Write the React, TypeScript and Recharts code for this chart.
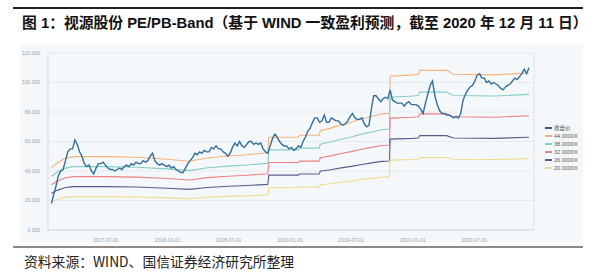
import React from "react";
import { LineChart, Line, XAxis, YAxis, CartesianGrid } from "recharts";

// 收盘价（周度，自上市首周起）
const closeStart = "2017-01-20";
const closeWeekly = [
  18, 24, 30, 37, 40, 41, 47, 53, 55, 55,
  61, 58, 53, 50, 45, 43, 44, 40, 38, 42,
  45, 45, 46, 44, 42, 41, 41, 40, 41, 42,
  41, 43, 44, 43, 45, 44, 46, 45, 45, 47,
  46, 47, 50, 52, 47, 45, 44, 45, 44, 43,
  44, 42, 43, 41, 40, 39, 39, 42, 45, 47,
  49, 52, 51, 53, 52, 54, 53, 53, 56, 55,
  57, 55, 55, 53, 52, 50, 52, 56, 59, 57,
  60, 57, 56, 58, 60, 60, 58, 59, 58, 59,
  55, 53, 52, 57, 62, 65, 63, 60, 58, 57,
  57, 55, 56, 54, 55, 57, 56, 60, 63, 67,
  69, 73, 76, 76, 73, 74, 78, 73, 73, 76,
  75, 74, 74, 72, 71, 72, 74, 77, 79, 76,
  75, 75, 76, 72, 70, 71, 82, 91, 91, 89,
  87, 89, 90, 89, 95, 88, 87, 86, 86, 86,
  84, 86, 87, 85, 85, 85, 84, 82, 79, 86,
  92, 98, 101, 91, 85, 81, 79, 79, 78, 78,
  77, 76, 77, 76, 79, 88, 92, 95, 97, 98,
  101, 105, 106, 103, 103, 100, 101, 99, 100, 99,
  98, 96, 95, 97, 98, 99, 101, 103, 102, 104,
  106, 109, 106, 110,
];

// WIND 一致预测 EPS
const epsDates = [
  "2017-01-20", "2017-02-08", "2017-03-01", "2017-03-25", "2017-06-30",
  "2017-09-30", "2017-12-31", "2018-03-07", "2018-04-30", "2018-06-30",
  "2018-08-25", "2018-10-26", "2018-10-29", "2019-01-25", "2019-01-28",
  "2019-03-28", "2019-03-31", "2019-05-01", "2019-06-01", "2019-07-01",
  "2019-08-01", "2019-08-31", "2019-09-30", "2019-10-23", "2019-10-25",
  "2019-12-31", "2020-01-17", "2020-01-21", "2020-04-10", "2020-04-30",
  "2020-08-31", "2020-12-11",
];
const epsValues = [
  0.96, 1.04, 1.1, 1.13, 1.13,
  1.12, 1.09, 1.06, 1.11, 1.14,
  1.16, 1.19, 1.43, 1.43, 1.46,
  1.46, 1.53, 1.57, 1.62, 1.66,
  1.71, 1.75, 1.79, 1.8, 2.37,
  2.39, 2.4, 2.46, 2.46, 2.4,
  2.39, 2.42,
];

const bandMultiples = [44, 38, 32, 26, 20];
const bandNames = ["44.0000X", "38.0000X", "32.0000X", "26.0000X", "20.0000X"];
const bandColors = ["#f5b27a", "#86cdc3", "#ee8080", "#575d8c", "#f2d98c"];

const xTicks = ["2017-07-01", "2018-01-01", "2018-07-01", "2019-01-01", "2019-07-01", "2020-01-01", "2020-07-01"];
const yTicks = [0, 20, 40, 60, 80, 100, 120];

const DAY = 86400000;
const toTime = (s: string) => {
  const [y, m, d] = s.split("-").map(Number);
  return Date.UTC(y, m - 1, d);
};
const fmtDate = (t: number) => new Date(t).toISOString().slice(0, 10);

const closeData = closeWeekly.map((v, i) => ({ t: toTime(closeStart) + i * 7 * DAY, close: v }));
const bandData = epsDates.map((d, i) => {
  const row: Record<string, number> = { t: toTime(d) };
  bandMultiples.forEach((m, k) => {
    row["b" + k] = +(m * epsValues[i]).toFixed(2);
  });
  return row;
});

const tickFont = { fontSize: 5, fill: "#9aa0a8", fontFamily: "Liberation Sans, Arial, sans-serif" };

export default function App() {
  const legend = [{ name: "收盘价", color: "#3b5f80" }].concat(
    bandNames.map((n, k) => ({ name: n, color: bandColors[k] }))
  );
  return (
    <div style={{ position: "absolute", left: 0, top: 0, width: 596, height: 274, background: "#fff", fontFamily: "Liberation Sans, 'Noto Sans CJK SC', sans-serif" }}>
      <div style={{ position: "absolute", left: 13, top: 7, width: 570, height: 2, background: "#222" }} />
      <div style={{ position: "absolute", left: 22, top: 11, fontSize: 14.8, fontWeight: "bold", color: "#111", whiteSpace: "nowrap", fontFamily: "'Liberation Sans', 'Noto Sans CJK SC', sans-serif" }}>
        图 1：视源股份 PE/PB-Band（基于 WIND 一致盈利预测，截至 2020 年 12 月 11 日）
      </div>
      <div style={{ position: "absolute", left: 20, top: 44, width: 563, height: 198, background: "#f5f8fb" }}>
        <LineChart width={515} height={198} data={closeData} margin={{ top: 9, right: 0, left: 0, bottom: 0 }}>
          <CartesianGrid horizontal vertical={false} stroke="#e1e6ec" strokeWidth={0.8} />
          <XAxis
            dataKey="t"
            type="number"
            domain={[toTime("2017-01-10"), toTime("2020-12-26")]}
            ticks={xTicks.map(toTime)}
            tickFormatter={fmtDate}
            tick={tickFont}
            tickLine={false}
            axisLine={{ stroke: "#d5dbe2" }}
            height={12}
            interval={0}
          />
          <YAxis
            domain={[0, 120]}
            ticks={yTicks}
            tickFormatter={(v: number) => v.toFixed(3)}
            tick={tickFont}
            tickLine={false}
            axisLine={{ stroke: "#d5dbe2" }}
            width={28}
            interval={0}
          />
          <YAxis yAxisId="r" orientation="right" width={1} tick={false} tickLine={false} axisLine={{ stroke: "#dde2e8" }} domain={[0, 120]} />
          {bandMultiples.map((m, k) => (
            <Line
              key={m}
              data={bandData}
              dataKey={"b" + k}
              stroke={bandColors[k]}
              strokeWidth={1.1}
              dot={false}
              type="linear"
              isAnimationActive={false}
            />
          ))}
          <Line data={closeData} dataKey="close" stroke="#336f9c" strokeWidth={1.4} dot={false} type="linear" isAnimationActive={false} />
        </LineChart>
        <div style={{ position: "absolute", left: 525, top: 80 }}>
          {legend.map((l) => (
            <div key={l.name} style={{ display: "flex", alignItems: "center", height: 8 }}>
              <div style={{ width: 7, height: 1.2, background: l.color, marginRight: 2 }} />
              <span style={{ fontSize: 5.5, color: "#555", fontFamily: "'Liberation Sans', 'Noto Sans CJK SC', sans-serif" }}>{l.name}</span>
            </div>
          ))}
        </div>
      </div>
      <div style={{ position: "absolute", left: 13, top: 246, width: 570, height: 2, background: "#8a8a8a" }} />
      <div style={{ position: "absolute", left: 24, top: 251, fontSize: 13.8, color: "#222", whiteSpace: "nowrap", fontFamily: "'Noto Sans CJK SC', sans-serif" }}>
        资料来源：WIND、国信证券经济研究所整理
      </div>
    </div>
  );
}
